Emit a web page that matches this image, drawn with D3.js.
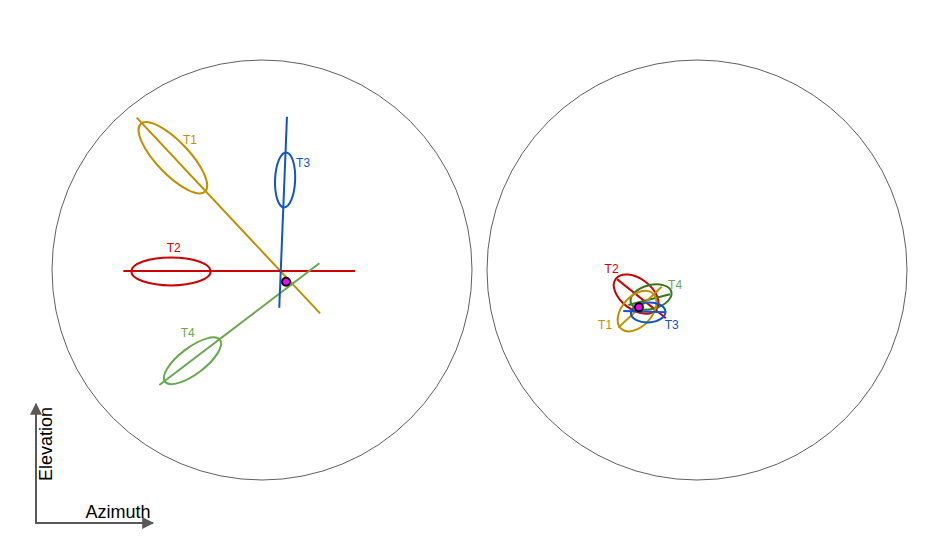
<!DOCTYPE html>
<html>
<head>
<meta charset="utf-8">
<script src="https://cdn.jsdelivr.net/npm/d3@7"></script>
<style>
  html, body { margin: 0; padding: 0; background: #fff; }
  svg { display: block; font-family: "Liberation Sans", Arial, sans-serif; }
</style>
</head>
<body>
<svg id="chart" width="931" height="544"></svg>
<script>
// ---------- DATA (azimuth / elevation in degrees, relative to panel centre) ----------
const tracks = ["T1", "T2", "T3", "T4"];
const fieldOfView = [-90, 90];

// Left panel
const leftLineFrom   = [[-53.7, 65.3], [-59.4, -0.4], [7.4, -16.2], [-44.0, -49.3]];
const leftLineTo     = [[24.9, -18.6], [39.9, -0.4], [10.7, 65.7], [24.6, 2.9]];
const leftEllCenter  = [[-38.2, 48.1], [-39.0, -0.6], [9.9, 38.6], [-29.8, -38.9]];
const leftEllMajor   = [20.0, 17.0, 11.8, 14.8];
const leftEllMinor   = [7.0, 6.0, 4.3, 5.6];
const leftEllAngle   = [-46.4, 0, 87.7, 37.2];
const leftLabelPos   = [[-30.9, 55.7], [-37.8, 9.6], [17.6, 45.7], [-31.8, -27.1]];
const leftTruth      = [10.3, -5.0];

// Right panel
const rightLineFrom  = [[-33.7, -24.7], [-34.3, -3.9], [-31.6, -17.6], [-29.4, -15.0]];
const rightLineTo    = [[-15.1, -7.2], [-13.3, -20.7], [-13.3, -18.1], [-11.6, -10.4]];
const rightEllCenter = [[-25.7, -17.6], [-26.1, -10.3], [-20.9, -18.2], [-19.7, -11.6]];
const rightEllMajor  = [10.2, 10.9, 7.4, 9.0];
const rightEllMinor  = [6.4, 6.6, 4.3, 5.1];
const rightEllAngle  = [48, -37, 3, 15];
const rightLabelPos  = [[-39.4, -23.6], [-36.6, 0.4], [-10.8, -23.6], [-9.4, -6.4]];
const rightTruth     = [-24.9, -16.0];

const axisLabels = ["Azimuth", "Elevation"];

// ---------- STYLE ----------
const leftColors  = {T1: "#bf9000", T2: "#cc0000", T3: "#1155cc", T4: "#6aa84f"};
const rightColors = {T1: "#bf9000", T2: "#cc0000", T3: "#1155cc", T4: "#38761d"};
const labelColors = {T1: "#bf9000", T2: "#cc0000", T3: "#1155cc", T4: "#6aa84f"};

const svg = d3.select("#chart");
const R = 210;

function drawPanel(cx, cy, P, colors, order) {
  const x = d3.scaleLinear().domain(fieldOfView).range([cx - R, cx + R]);
  const y = d3.scaleLinear().domain(fieldOfView).range([cy + R, cy - R]);
  const g = svg.append("g");
  g.append("circle")
    .attr("cx", x(0)).attr("cy", y(0)).attr("r", x(fieldOfView[1]) - x(0))
    .attr("fill", "none").attr("stroke", "#5f5f5f").attr("stroke-width", 1);

  order.forEach(i => {
    const t = tracks[i];
    const c = colors[t];
    const e = P.ellCenter[i];
    g.append("ellipse")
      .attr("transform", `translate(${x(e[0])},${y(e[1])}) rotate(${-P.ellAngle[i]})`)
      .attr("rx", x(P.ellMajor[i]) - x(0))
      .attr("ry", x(P.ellMinor[i]) - x(0))
      .attr("fill", "none").attr("stroke", c).attr("stroke-width", 2);
    g.append("line")
      .attr("x1", x(P.lineFrom[i][0])).attr("y1", y(P.lineFrom[i][1]))
      .attr("x2", x(P.lineTo[i][0])).attr("y2", y(P.lineTo[i][1]))
      .attr("stroke", c).attr("stroke-width", 2);
  });
  tracks.forEach((t, i) => {
    g.append("text")
      .attr("x", x(P.labelPos[i][0])).attr("y", y(P.labelPos[i][1]))
      .attr("text-anchor", "middle").attr("dominant-baseline", "central")
      .attr("font-size", 12).attr("fill", labelColors[t]).text(t);
  });
  g.append("circle")
    .attr("cx", x(P.truth[0])).attr("cy", y(P.truth[1])).attr("r", 4)
    .attr("fill", "#ff00ff").attr("stroke", "#000").attr("stroke-width", 2);
}

drawPanel(262, 270, {
  lineFrom: leftLineFrom, lineTo: leftLineTo, ellCenter: leftEllCenter,
  ellMajor: leftEllMajor, ellMinor: leftEllMinor, ellAngle: leftEllAngle,
  labelPos: leftLabelPos, truth: leftTruth
}, leftColors, [0, 1, 3, 2]);

drawPanel(697, 270, {
  lineFrom: rightLineFrom, lineTo: rightLineTo, ellCenter: rightEllCenter,
  ellMajor: rightEllMajor, ellMinor: rightEllMinor, ellAngle: rightEllAngle,
  labelPos: rightLabelPos, truth: rightTruth
}, rightColors, [1, 3, 0, 2]);

// ---------- Orientation arrows ----------
const defs = svg.append("defs");
defs.append("marker").attr("id", "arrow")
  .attr("viewBox", "0 0 10 10").attr("refX", 9).attr("refY", 5)
  .attr("markerWidth", 6).attr("markerHeight", 6).attr("markerUnits", "strokeWidth")
  .attr("orient", "auto")
  .append("path").attr("d", "M0,0 L10,5 L0,10 Z").attr("fill", "#595959");

const ox = 36, oy = 523;
svg.append("line").attr("x1", ox).attr("y1", oy).attr("x2", 153).attr("y2", oy)
  .attr("stroke", "#595959").attr("stroke-width", 2).attr("marker-end", "url(#arrow)");
svg.append("line").attr("x1", ox).attr("y1", oy + 1).attr("x2", ox).attr("y2", 404)
  .attr("stroke", "#595959").attr("stroke-width", 2).attr("marker-end", "url(#arrow)");

svg.append("text").attr("x", 118).attr("y", 518).attr("text-anchor", "middle")
  .attr("font-size", 18).attr("fill", "#000").text(axisLabels[0]);
svg.append("text").attr("transform", "translate(52,444) rotate(-90)")
  .attr("text-anchor", "middle")
  .attr("font-size", 18).attr("fill", "#000").text(axisLabels[1]);
</script>
</body>
</html>
